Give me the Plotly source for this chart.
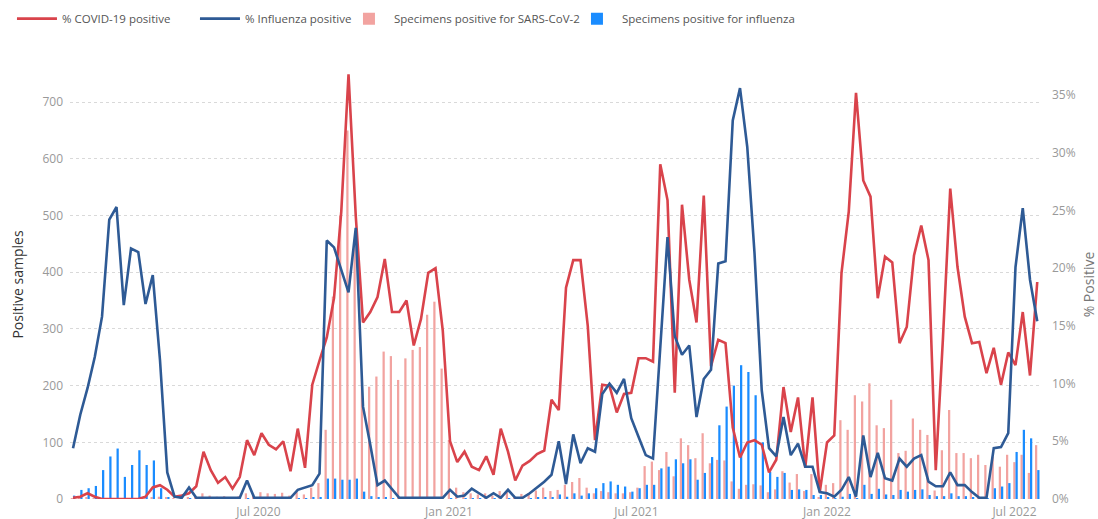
import plotly.graph_objects as go
import pandas as pd

# Weekly reporting periods
weeks = pd.date_range("2020-01-04", periods=134, freq="7D")

# % COVID-19 positive (right axis)
covid_pct = [
    0.1, 0.2, 0.5, 0.2, 0.0, 0.0, 0.0, 0.0, 0.0, 0.0,
    0.2, 1.0, 1.2, 0.8, 0.2, 0.3, 0.5, 1.1, 4.1, 2.5,
    1.4, 1.9, 0.9, 1.9, 5.1, 3.8, 5.7, 4.7, 4.3, 5.0,
    2.4, 6.1, 2.7, 9.9, 12.0, 14.0, 17.4, 24.9, 36.8, 24.5,
    15.3, 16.2, 17.5, 20.8, 16.2, 16.2, 17.2, 13.3, 15.6, 19.6,
    20.0, 14.6, 5.0, 3.2, 4.1, 2.8, 2.5, 3.7, 2.1, 6.1,
    4.1, 1.6, 2.9, 3.3, 3.9, 4.2, 8.6, 7.7, 18.3, 20.7,
    20.7, 15.0, 5.1, 9.9, 9.8, 7.5, 9.1, 9.2, 12.2, 12.2,
    11.9, 29.0, 25.9, 9.2, 25.5, 19.0, 15.3, 26.3, 11.5, 13.8,
    13.5, 6.2, 3.6, 4.9, 5.1, 4.7, 2.3, 3.4, 9.7, 5.8,
    8.8, 2.7, 8.8, 0.6, 4.9, 5.5, 19.6, 24.9, 35.2, 27.6,
    26.2, 17.4, 21.0, 20.5, 13.5, 14.9, 21.1, 23.7, 20.7, 2.5,
    14.0, 26.9, 20.1, 15.8, 13.5, 13.6, 10.9, 13.1, 9.9, 12.7,
    11.6, 16.2, 10.7, 18.8,
]

# % Influenza positive (right axis)
flu_pct = [
    4.4, 7.3, 9.6, 12.3, 15.8, 24.2, 25.3, 16.8, 21.7, 21.4,
    16.9, 19.4, 12.0, 2.3, 0.2, 0.1, 1.0, 0.1, 0.1, 0.1,
    0.1, 0.1, 0.1, 0.1, 1.6, 0.1, 0.1, 0.1, 0.1, 0.1,
    0.1, 0.8, 1.0, 1.2, 2.2, 22.4, 21.8, 19.8, 17.9, 23.5,
    8.0, 4.7, 1.2, 1.6, 0.8, 0.1, 0.1, 0.1, 0.1, 0.1,
    0.1, 0.1, 0.8, 0.2, 0.3, 0.9, 0.5, 0.1, 0.5, 0.1,
    0.8, 0.1, 0.1, 0.5, 1.0, 1.5, 2.1, 5.0, 1.3, 5.6,
    3.1, 4.4, 4.1, 9.1, 10.0, 9.2, 10.4, 7.0, 5.4, 3.8,
    3.5, 13.0, 22.7, 14.1, 12.5, 13.3, 7.1, 10.4, 11.2, 20.4,
    20.6, 32.8, 35.6, 30.5, 21.3, 9.4, 4.4, 3.7, 7.1, 3.8,
    4.8, 2.8, 2.8, 0.6, 0.5, 0.2, 0.8, 1.9, 0.2, 5.5,
    1.9, 4.0, 1.8, 1.6, 3.5, 2.8, 3.5, 3.8, 1.5, 1.1,
    1.1, 2.3, 1.2, 1.2, 0.6, 0.1, 0.1, 4.4, 4.5, 5.7,
    20.1, 25.2, 19.0, 15.4,
]

# Specimens positive for SARS-CoV-2 (left axis)
sars_pos = [
    1, 1, 2, 1, 0, 0, 0, 0, 0, 0,
    1, 3, 4, 3, 1, 2, 2, 4, 10, 6,
    4, 5, 3, 5, 10, 8, 12, 10, 9, 11,
    6, 12, 8, 20, 28, 122, 357, 500, 650, 450,
    210, 198, 216, 260, 252, 210, 248, 263, 268, 325,
    348, 230, 104, 20, 12, 10, 8, 10, 6, 14,
    12, 5, 9, 10, 15, 20, 14, 16, 25, 30,
    37, 20, 10, 14, 12, 10, 10, 12, 20, 58,
    66, 51, 83, 40, 107, 95, 72, 116, 63, 69,
    68, 31, 18, 25, 26, 24, 12, 17, 49, 29,
    44, 14, 44, 3, 25, 28, 139, 122, 183, 172,
    204, 130, 125, 175, 81, 85, 142, 122, 113, 15,
    86, 157, 81, 81, 72, 78, 60, 75, 57, 78,
    65, 78, 46, 95,
]

# Specimens positive for influenza (left axis)
flu_pos = [
    6, 16, 19, 23, 51, 75, 89, 39, 60, 86,
    60, 68, 19, 2, 0, 0, 1, 0, 0, 0,
    0, 0, 0, 0, 1, 0, 0, 0, 0, 0,
    0, 1, 1, 2, 3, 36, 36, 34, 34, 36,
    13, 5, 2, 2, 1, 0, 0, 0, 0, 0,
    0, 0, 1, 0, 1, 1, 1, 0, 1, 0,
    1, 0, 0, 1, 2, 3, 3, 8, 4, 10,
    6, 10, 19, 28, 31, 25, 22, 13, 19, 25,
    25, 54, 57, 70, 63, 70, 34, 46, 74, 130,
    163, 200, 236, 224, 183, 100, 48, 39, 46, 16,
    17, 16, 7, 7, 2, 1, 4, 9, 1, 25,
    9, 18, 8, 7, 16, 13, 16, 17, 7, 5,
    5, 10, 5, 5, 3, 1, 1, 19, 22, 28,
    83, 122, 107, 51,
]

left_ticks = [0, 100, 200, 300, 400, 500, 600, 700]
right_ticks = [0, 5, 10, 15, 20, 25, 30, 35]
right_tick_text = ["0%", "5%", "10%", "15%", "20%", "25%", "30%", "35%"]
x_tick_dates = ["2020-07-01", "2021-01-01", "2021-07-01", "2022-01-01", "2022-07-01"]
x_tick_text = ["Jul 2020", "Jan 2021", "Jul 2021", "Jan 2022", "Jul 2022"]

RED = "#d9434b"
NAVY = "#2e5a95"
PINK = "#f2a3a0"
BLUE = "#1a8cff"

fig = go.Figure()
fig.add_trace(go.Scatter(x=weeks, y=covid_pct, name="% COVID-19 positive", mode="lines",
                         line=dict(color=RED, width=2.6), yaxis="y2", legendwidth=128))
fig.add_trace(go.Scatter(x=weeks, y=flu_pct, name="% Influenza positive", mode="lines",
                         line=dict(color=NAVY, width=2.6), yaxis="y2", legendwidth=94))
fig.add_trace(go.Bar(x=weeks, y=sars_pos, name="Specimens positive for SARS-CoV-2",
                     marker=dict(color=PINK, line=dict(width=0)), yaxis="y", legendwidth=173))
fig.add_trace(go.Bar(x=weeks, y=flu_pos, name="Specimens positive for influenza",
                     marker=dict(color=BLUE, line=dict(width=0)), yaxis="y", legendwidth=180))

fig.update_layout(
    width=1098, height=519,
    margin=dict(l=70, r=56, t=70, b=20, autoexpand=False),
    paper_bgcolor="white", plot_bgcolor="white",
    barmode="group", bargap=0.38, bargroupgap=0.0,
    font=dict(family="Open Sans, sans-serif", color="#999999"),
    showlegend=True,
    legend=dict(orientation="h", xref="container", yref="container",
                x=0.0109, y=0.992, xanchor="left", yanchor="top",
                font=dict(size=11.5, color="#555555"), traceorder="normal",
                itemwidth=40, bgcolor="rgba(0,0,0,0)"),
    xaxis=dict(type="date", range=["2020-01-01 02:00", "2022-07-27 14:00"],
               tickvals=x_tick_dates, ticktext=x_tick_text,
               showgrid=False, showline=False, zeroline=False, ticks="",
               tickfont=dict(size=12, color="#999999"), automargin=False,
               ticklabelstandoff=4),
    yaxis=dict(range=[0, 756.6], tickvals=left_ticks, showgrid=True,
               gridcolor="#d9d9d9", griddash="dot", gridwidth=1,
               zeroline=False, showline=False, ticks="",
               tickfont=dict(size=12, color="#999999"), automargin=False,
               ticklabelstandoff=6,
               title=dict(text="Positive samples", font=dict(size=14, color="#333333"))),
    yaxis2=dict(overlaying="y", side="right", range=[0, 37.17], tickvals=right_ticks,
                ticktext=right_tick_text, showgrid=False, zeroline=False, showline=False,
                ticks="", tickfont=dict(size=12, color="#999999"), automargin=False,
                ticklabelstandoff=9,
                title=dict(text="% Positive", font=dict(size=14, color="#777777"))),
)

fig.write_html("out.html", config={"displayModeBar": False},
               post_script="document.body.style.margin='0px';")
